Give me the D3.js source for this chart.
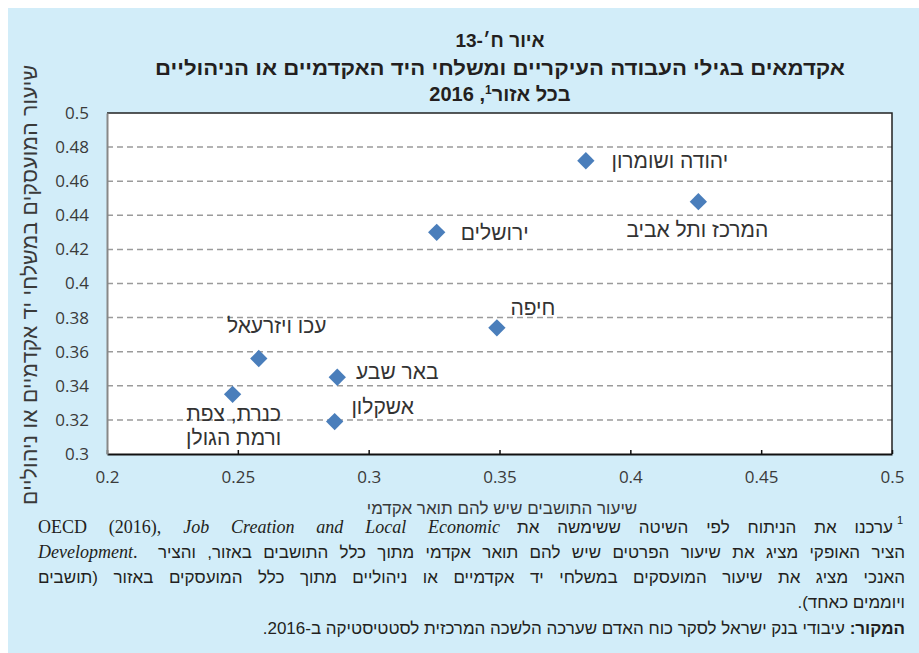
<!DOCTYPE html>
<html>
<head>
<meta charset="UTF-8">
<title>Academics by region</title>
<script src="https://d3js.org/d3.v7.min.js"></script>
<style>
  body { margin: 0; background: #fff; }
  .heb { direction: rtl; unicode-bidi: embed; }
</style>
</head>
<body>
<script>
var w = 919;
var h = 653;

// data
var regions = ["יהודה ושומרון", "המרכז ותל אביב", "ירושלים", "חיפה",
               "עכו ויזרעאל", "באר שבע", "כנרת, צפת ורמת הגולן", "אשקלון"];
var academicShare = [0.383, 0.426, 0.326, 0.349, 0.258, 0.288, 0.248, 0.287];
var managerShare  = [0.472, 0.448, 0.430, 0.374, 0.356, 0.345, 0.335, 0.319];
var xTicks = [0.2, 0.25, 0.3, 0.35, 0.4, 0.45, 0.5];
var yTicks = [0.3, 0.32, 0.34, 0.36, 0.38, 0.4, 0.42, 0.44, 0.46, 0.48, 0.5];

// where each label sits relative to its marker (px)
var labelPos = {
  "יהודה ושומרון": [84, 0],
  "המרכז ותל אביב": [-1, 28],
  "ירושלים": [58, 0],
  "חיפה": [36, -20],
  "עכו ויזרעאל": [18, -33],
  "באר שבע": [60, -6],
  "כנרת, צפת ורמת הגולן": [1, 19],
  "אשקלון": [48, -15]
};

var hebFont = "Liberation Sans, Arial, sans-serif";

var points = regions.map(function(r, i){
  return {name: r, x: academicShare[i], y: managerShare[i]};
});

// stretch a line to a given width by widening the word gaps
function justify(sel, target) {
  var node = sel.node();
  var len = node.getComputedTextLength();
  var gaps = (node.textContent.match(/ /g) || []).length;
  if (gaps > 0 && len < target) sel.attr("word-spacing", (target - len) / gaps);
}

var svg = d3.select("body").append("svg")
  .attr("width", w).attr("height", h);

svg.append("rect")
  .attr("x", 8).attr("y", 8).attr("width", w - 8).attr("height", h - 8)
  .attr("fill", "#d2edf9");

var x = d3.scaleLinear().domain([0.2, 0.5]).range([107, 892]);
var y = d3.scaleLinear().domain([0.3, 0.5]).range([454, 113]);

// plot area
svg.append("rect")
  .attr("x", x(0.2)).attr("y", y(0.5))
  .attr("width", x(0.5) - x(0.2)).attr("height", y(0.3) - y(0.5))
  .attr("fill", "#fff");

// gridlines
svg.selectAll("line.grid")
  .data(yTicks.slice(1, -1))
  .enter().append("line")
  .attr("class", "grid")
  .attr("x1", x(0.2)).attr("x2", x(0.5))
  .attr("y1", function(d){ return y(d); })
  .attr("y2", function(d){ return y(d); })
  .attr("stroke", "#9b9b9b")
  .attr("stroke-width", 1.5)
  .attr("stroke-dasharray", "6,4");

// frame: top + right
svg.append("path")
  .attr("d", "M" + x(0.2) + "," + y(0.5) + "H" + x(0.5) + "V" + y(0.3))
  .attr("fill", "none").attr("stroke", "#222").attr("stroke-width", 1.5);

// axes
var xAxis = d3.axisBottom(x).tickValues(xTicks).tickSizeInner(-4).tickSizeOuter(0)
  .tickFormat(d3.format(""));
var gx = svg.append("g").attr("transform", "translate(0," + y(0.3) + ")").call(xAxis);
gx.select(".domain").attr("stroke", "#111").attr("stroke-width", 2);
gx.selectAll(".tick line").attr("stroke", "#111").attr("stroke-width", 1.5);
gx.selectAll(".tick text")
  .attr("y", 29).attr("dy", 0)
  .attr("font-family", "Open Sans").attr("font-size", "17px").attr("fill", "#3a3a3a");

var yAxis = d3.axisLeft(y).tickValues(yTicks).tickSize(0).tickPadding(18)
  .tickFormat(d3.format(""));
var gy = svg.append("g").attr("transform", "translate(" + x(0.2) + ",0)").call(yAxis);
gy.select(".domain").attr("stroke", "#888").attr("stroke-width", 2);
gy.selectAll(".tick text")
  .attr("font-family", "Open Sans").attr("font-size", "17px").attr("fill", "#3a3a3a");

// markers
svg.selectAll("path.pt")
  .data(points)
  .enter().append("path")
  .attr("class", "pt")
  .attr("d", d3.symbol().type(d3.symbolSquare).size(150))
  .attr("transform", function(d){ return "translate(" + x(d.x) + "," + y(d.y) + ") rotate(45)"; })
  .attr("fill", "#4a7ebb");

// labels
var labels = svg.selectAll("text.lbl")
  .data(points)
  .enter().append("text")
  .attr("class", "lbl heb")
  .attr("x", function(d){ return x(d.x) + labelPos[d.name][0]; })
  .attr("y", function(d){ return y(d.y) + labelPos[d.name][1]; })
  .attr("dy", "0.35em")
  .attr("text-anchor", "middle")
  .attr("font-family", hebFont)
  .attr("font-size", "21px")
  .attr("fill", "#333");

labels.each(function(d){
  var t = d3.select(this);
  if (d.name === "כנרת, צפת ורמת הגולן") {
    t.append("tspan").attr("x", t.attr("x")).text("כנרת, צפת");
    t.append("tspan").attr("x", t.attr("x")).attr("dy", 24).text("ורמת הגולן");
  } else {
    t.text(d.name);
  }
});

// titles
var title = svg.append("g")
  .attr("font-family", hebFont)
  .attr("font-weight", "bold").attr("fill", "#231f20")
  .attr("text-anchor", "middle");
title.append("text").attr("class", "heb").attr("x", 500).attr("y", 47)
  .attr("font-size", "19px").text("איור ח׳-13");
title.append("text").attr("class", "heb").attr("x", 500).attr("y", 75)
  .attr("font-size", "20px").attr("textLength", 690).attr("lengthAdjust", "spacingAndGlyphs")
  .text("אקדמאים בגילי העבודה העיקריים ומשלחי היד האקדמיים או הניהוליים");
var t3 = title.append("text").attr("class", "heb").attr("x", 500).attr("y", 101)
  .attr("font-size", "20px");
t3.append("tspan").text("בכל אזור");
t3.append("tspan").attr("font-size", "12px").attr("dy", -7).text("1");
t3.append("tspan").attr("dy", 7).text(", 2016");

// axis titles
svg.append("text").attr("class", "heb")
  .attr("transform", "translate(30,285) rotate(-90)")
  .attr("text-anchor", "middle").attr("dy", "0.35em")
  .attr("font-family", hebFont)
  .attr("font-size", "21px").attr("fill", "#3a3a3a")
  .attr("textLength", 440).attr("lengthAdjust", "spacing")
  .text("שיעור המועסקים במשלחי יד אקדמיים או ניהוליים");

svg.append("text").attr("class", "heb")
  .attr("x", 502).attr("y", 514)
  .attr("text-anchor", "middle")
  .attr("font-family", hebFont)
  .attr("font-size", "17px").attr("fill", "#3a3a3a")
  .text("שיעור התושבים שיש להם תואר אקדמי");

// footnote
var fn = svg.append("g")
  .attr("font-family", hebFont)
  .attr("font-size", "17px").attr("fill", "#231f20");

fn.append("text").attr("x", 903).attr("y", 524).attr("font-size", "11px").attr("text-anchor", "end").text("1");
var h1 = fn.append("text").attr("class", "heb").attr("x", 893).attr("y", 533)
  .attr("text-anchor", "start")
  .text("ערכנו את הניתוח לפי השיטה ששימשה את");
justify(h1, 376);
var e1 = fn.append("text").attr("x", 38).attr("y", 533)
  .attr("font-family", "Liberation Serif, serif").attr("font-size", "18px");
e1.append("tspan").text("OECD (2016), ");
e1.append("tspan").attr("font-style", "italic").text("Job Creation and Local Economic");
justify(e1, 462);

var e2 = fn.append("text").attr("x", 38).attr("y", 558)
  .attr("font-family", "Liberation Serif, serif").attr("font-size", "18px");
e2.append("tspan").attr("font-style", "italic").text("Development");
e2.append("tspan").text(".");
var h2 = fn.append("text").attr("class", "heb").attr("x", 905).attr("y", 558)
  .attr("text-anchor", "start")
  .text("הציר האופקי מציג את שיעור הפרטים שיש להם תואר אקדמי מתוך כלל התושבים באזור, והציר");
justify(h2, 747);

var h3 = fn.append("text").attr("class", "heb").attr("x", 905).attr("y", 583)
  .attr("text-anchor", "start")
  .text("האנכי מציג את שיעור המועסקים במשלחי יד אקדמיים או ניהוליים מתוך כלל המועסקים באזור (תושבים");
justify(h3, 867);

fn.append("text").attr("class", "heb").attr("x", 905).attr("y", 608)
  .attr("text-anchor", "start")
  .text("ויוממים כאחד).");

var src = fn.append("text").attr("class", "heb").attr("x", 905).attr("y", 634)
  .attr("text-anchor", "start");
src.append("tspan").attr("font-weight", "bold").text("המקור:");
src.append("tspan").text(" עיבודי בנק ישראל לסקר כוח האדם שערכה הלשכה המרכזית לסטטיסטיקה ב-2016.");
</script>
</body>
</html>
